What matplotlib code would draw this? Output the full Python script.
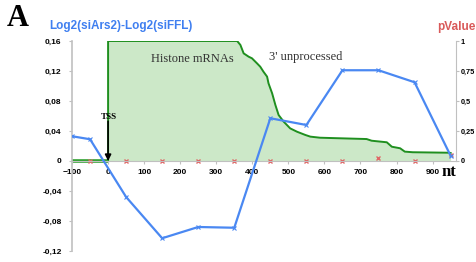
import matplotlib.pyplot as plt
from matplotlib.ticker import FuncFormatter

# blue curve: Log2(siArs2)-Log2(siFFL) per window
pos_nt = [-100, -50, 50, 150, 250, 350, 450, 550, 650, 750, 850, 950]
log2_ratio = [0.033, 0.029, -0.048, -0.103, -0.088, -0.089, 0.057, 0.048, 0.121, 0.121, 0.105, 0.007]

# red crosses: pValue per window
pval_nt = [-50, 50, 150, 250, 350, 450, 550, 650, 750, 850, 950]
pvalue = [0, 0, 0, 0, 0, 0, 0, 0, 0.025, 0, 0.05]

# green area: fraction of histone mRNAs still covered
green_nt = [0, 0, 358, 367, 376, 390, 399, 413, 422, 431, 441, 445, 455, 464, 473,
            487, 505, 524, 547, 561, 588, 717, 731, 773, 787, 810, 823, 845, 943, 950]
green_val = [0, 1, 1, 0.967, 0.897, 0.869, 0.856, 0.814, 0.786, 0.744, 0.703, 0.647,
             0.564, 0.467, 0.383, 0.328, 0.272, 0.244, 0.217, 0.203, 0.194, 0.183,
             0.169, 0.156, 0.119, 0.106, 0.078, 0.073, 0.069, 0.067]
base_nt = [-100, 0]
base_val = [0, 0]

left_ticks = [-0.12, -0.08, -0.04, 0, 0.04, 0.08, 0.12, 0.16]
right_ticks = [0, 0.25, 0.5, 0.75, 1]
x_ticks = list(range(-100, 1000, 100))

plt.rcParams['font.family'] = ['Liberation Sans', 'DejaVu Sans']


def comma(v, _pos=None):
    s = ('%.2f' % v).rstrip('0').rstrip('.')
    if s in ('-0', ''):
        s = '0'
    return s.replace('.', ',')


fig = plt.figure(figsize=(4.77, 2.62), dpi=100)
ax = fig.add_axes([0.151, 0.042, 0.805, 0.8015])
ax2 = ax.twinx()
ax.set_zorder(ax2.get_zorder() + 1)
ax.patch.set_visible(False)

# right axis: green area + pValue
ax2.fill_between(green_nt, green_val, 0, color='#cce8c8', lw=0, zorder=1)
ax2.plot(green_nt, green_val, color='#1f8f1f', lw=1.4, zorder=2)
ax2.plot(base_nt, base_val, color='#2ea02e', lw=2.6, solid_capstyle='butt', zorder=2)
ax2.plot(pval_nt, pvalue, ls='none', marker='x', ms=3.5, mew=1.0, color='#e06666', zorder=3)
ax2.set_ylim(-0.75, 1)
ax2.set_yticks(right_ticks)
ax2.yaxis.set_major_formatter(FuncFormatter(comma))
for s in ('top', 'left', 'bottom'):
    ax2.spines[s].set_visible(False)
ax2.spines['right'].set_bounds(0, 1)
ax2.spines['right'].set_color('#c0c0c0')
ax2.tick_params(axis='y', length=2, width=0.8, color='#c0c0c0', pad=1.5,
                labelsize=5.3)
for t in ax2.get_yticklabels():
    t.set_fontweight('bold')

# left axis: log2 ratio
ax.plot(pos_nt, log2_ratio, color='#4a88f2', lw=1.6, marker='x', ms=3.5, mew=0.8, zorder=4)
ax.set_xlim(-100, 965)
ax.set_ylim(-0.12, 0.16)
ax.set_yticks(left_ticks)
ax.yaxis.set_major_formatter(FuncFormatter(comma))
ax.set_xticks(x_ticks)
ax.spines['top'].set_visible(False)
ax.spines['right'].set_visible(False)
ax.spines['bottom'].set_position(('data', 0))
ax.spines['bottom'].set_color('#c0c0c0')
ax.spines['left'].set_color('#c0c0c0')
ax.spines['left'].set_linewidth(1.2)
ax.tick_params(axis='y', length=2.5, width=0.8, color='#c0c0c0', pad=5, labelsize=6)
ax.tick_params(axis='x', length=2.5, width=0.8, color='#c0c0c0', pad=3, labelsize=6)
for t in ax.get_xticklabels() + ax.get_yticklabels():
    t.set_fontweight('bold')

# annotations
ax.text(234, 0.136, 'Histone mRNAs', family='Liberation Serif', fontsize=9,
        color='#333333', ha='center', va='center')
ax.text(547, 0.139, "3' unprocessed", family='Liberation Serif', fontsize=9,
        color='#333333', ha='center', va='center')
ax.text(2, 0.059, 'TSS', family='Liberation Serif', fontsize=6.5, fontweight='bold',
        ha='center', va='center')
ax.annotate('', xy=(0, 0), xytext=(0, 0.053),
            arrowprops=dict(arrowstyle='-|>', color='black', lw=1.2,
                            mutation_scale=9, shrinkA=0, shrinkB=0), zorder=6)
ax.text(946, -0.015, 'nt', family='Liberation Serif', fontsize=12, fontweight='bold',
        ha='center', va='center')

fig.text(7 / 477, 1 - 19 / 262, 'A', family='Liberation Serif', fontsize=22,
         fontweight='bold', ha='left', va='center')
fig.text(49 / 477, 1 - 26 / 262, 'Log2(siArs2)-Log2(siFFL)', fontsize=8.5,
         fontweight='bold', color='#3f7ff0', ha='left', va='center')
fig.text(437 / 477, 1 - 27 / 262, 'pValue', fontsize=8.5, fontweight='bold',
         color='#d95a5a', ha='left', va='center')

fig.savefig('out.png', dpi=100)
